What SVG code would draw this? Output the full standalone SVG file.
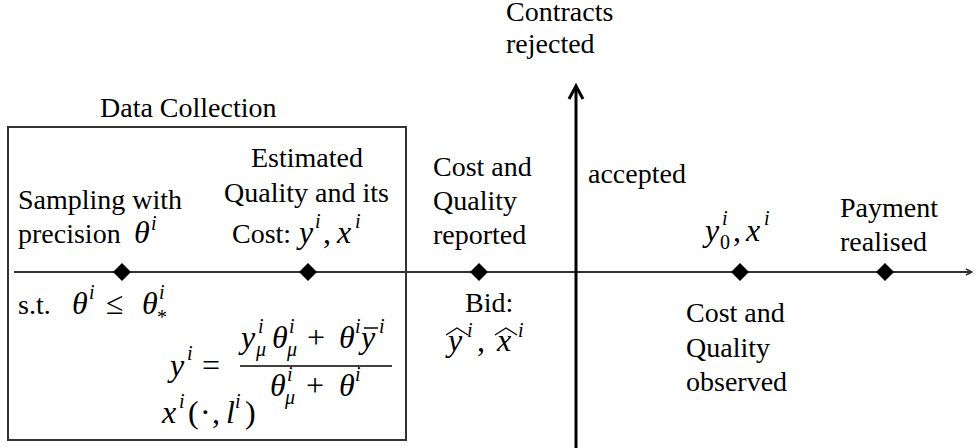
<svg xmlns="http://www.w3.org/2000/svg" width="974" height="448" viewBox="0 0 974 448" font-family="Liberation Serif, Times New Roman, serif">
<style>
text{fill:#000}
.t{font-size:28px}
.m{font-style:italic;font-size:32px}
.r{font-size:32px}
.s{font-style:italic;font-size:20px}
.su{font-size:20px}
.dm{fill:#000}
</style>
<defs>
<marker id="ah" markerWidth="8" markerHeight="8" refX="7" refY="4" orient="auto" markerUnits="userSpaceOnUse">
<path d="M1,1 L7,4 L1,7" fill="none" stroke="#333" stroke-width="1.5"/>
</marker>
</defs>
<g id="box">
<rect x="8" y="127" width="398" height="313" fill="none" stroke="#333" stroke-width="2"/>
<text class="t" x="100" y="117">Data Collection</text>
</g>
<g id="connectors">
<line x1="14" y1="272" x2="972" y2="272" stroke="#333" stroke-width="2" marker-end="url(#ah)"/>
<line x1="576" y1="448" x2="576" y2="87" stroke="#000" stroke-width="3"/>
<path d="M569,99 L576,86 L583,99" fill="none" stroke="#000" stroke-width="3"/>
</g>
<g id="n1">
<path class="dm" d="M122,263 L131,272 L122,281 L113,272 Z"/>
<text class="t" x="18" y="209">Sampling with</text>
<text class="t" x="18" y="243">precision</text>
<text class="m" x="134" y="243">θ</text>
<text class="s" x="151" y="230">i</text>
<text class="t" x="18" y="314">s.t.</text>
<text class="m" x="72" y="314">θ</text>
<text class="s" x="89" y="299">i</text>
<text class="r" x="106" y="314">≤</text>
<text class="m" x="142" y="314">θ</text>
<text class="s" x="159" y="299">i</text>
<text class="su" x="157" y="324">*</text>
</g>
<g id="n2">
<path class="dm" d="M308,263 L317,272 L308,281 L299,272 Z"/>
<text class="t" x="251" y="167">Estimated</text>
<text class="t" x="224" y="202">Quality and its</text>
<text class="t" x="232" y="243">Cost:</text>
<text class="m" x="299" y="243">y</text>
<text class="s" x="315" y="228">i</text>
<text class="r" x="323" y="243">,</text>
<text class="m" x="337" y="243">x</text>
<text class="s" x="355" y="228">i</text>
<text class="m" x="170" y="376">y</text>
<text class="s" x="187" y="360">i</text>
<text class="r" x="202" y="376">=</text>
<line x1="240" y1="366" x2="392" y2="366" stroke="#000" stroke-width="1.5"/>
<text class="m" x="241" y="348">y</text>
<text class="s" x="258" y="333">i</text>
<text class="s" x="256" y="356">μ</text>
<text class="m" x="272" y="348">θ</text>
<text class="s" x="289" y="333">i</text>
<text class="s" x="287" y="356">μ</text>
<text class="r" x="307" y="348">+</text>
<text class="m" x="339" y="348">θ</text>
<text class="s" x="355" y="333">i</text>
<text class="m" x="361" y="348">y</text>
<line x1="364" y1="328" x2="378" y2="328" stroke="#000" stroke-width="1.5"/>
<text class="s" x="379" y="333">i</text>
<text class="m" x="270" y="396">θ</text>
<text class="s" x="287" y="381">i</text>
<text class="s" x="285" y="404">μ</text>
<text class="r" x="306" y="396">+</text>
<text class="m" x="339" y="396">θ</text>
<text class="s" x="355" y="381">i</text>
<text class="m" x="162" y="423">x</text>
<text class="s" x="179" y="408">i</text>
<text class="r" x="188" y="423">(</text>
<text class="r" x="200" y="423">·</text>
<text class="r" x="212" y="423">,</text>
<text class="m" x="226" y="423">l</text>
<text class="s" x="235" y="408">i</text>
<text class="r" x="245" y="423">)</text>
</g>
<g id="n3">
<path class="dm" d="M479,263 L488,272 L479,281 L470,272 Z"/>
<text class="t" x="433" y="176">Cost and</text>
<text class="t" x="433" y="210">Quality</text>
<text class="t" x="433" y="244">reported</text>
<text class="t" x="465" y="312">Bid:</text>
<text class="m" x="448" y="351">y</text>
<path d="M446,335 L457,328 L468,335" fill="none" stroke="#000" stroke-width="1.3"/>
<text class="s" x="467" y="337">i</text>
<text class="r" x="477" y="351">,</text>
<text class="m" x="497" y="351">x</text>
<path d="M495,335 L506,328 L517,335" fill="none" stroke="#000" stroke-width="1.3"/>
<text class="s" x="518" y="337">i</text>
</g>
<g id="decision">
<text class="t" x="506" y="21">Contracts</text>
<text class="t" x="506" y="53">rejected</text>
<text class="t" x="588" y="183">accepted</text>
</g>
<g id="n4">
<path class="dm" d="M740,263 L749,272 L740,281 L731,272 Z"/>
<text class="m" x="705" y="241">y</text>
<text class="s" x="722" y="225">i</text>
<text class="su" x="720" y="249">0</text>
<text class="r" x="733" y="241">,</text>
<text class="m" x="746" y="241">x</text>
<text class="s" x="764" y="225">i</text>
<text class="t" x="686" y="322">Cost and</text>
<text class="t" x="686" y="357">Quality</text>
<text class="t" x="686" y="391">observed</text>
</g>
<g id="n5">
<path class="dm" d="M885,263 L894,272 L885,281 L876,272 Z"/>
<text class="t" x="840" y="217">Payment</text>
<text class="t" x="840" y="251">realised</text>
</g>
</svg>
